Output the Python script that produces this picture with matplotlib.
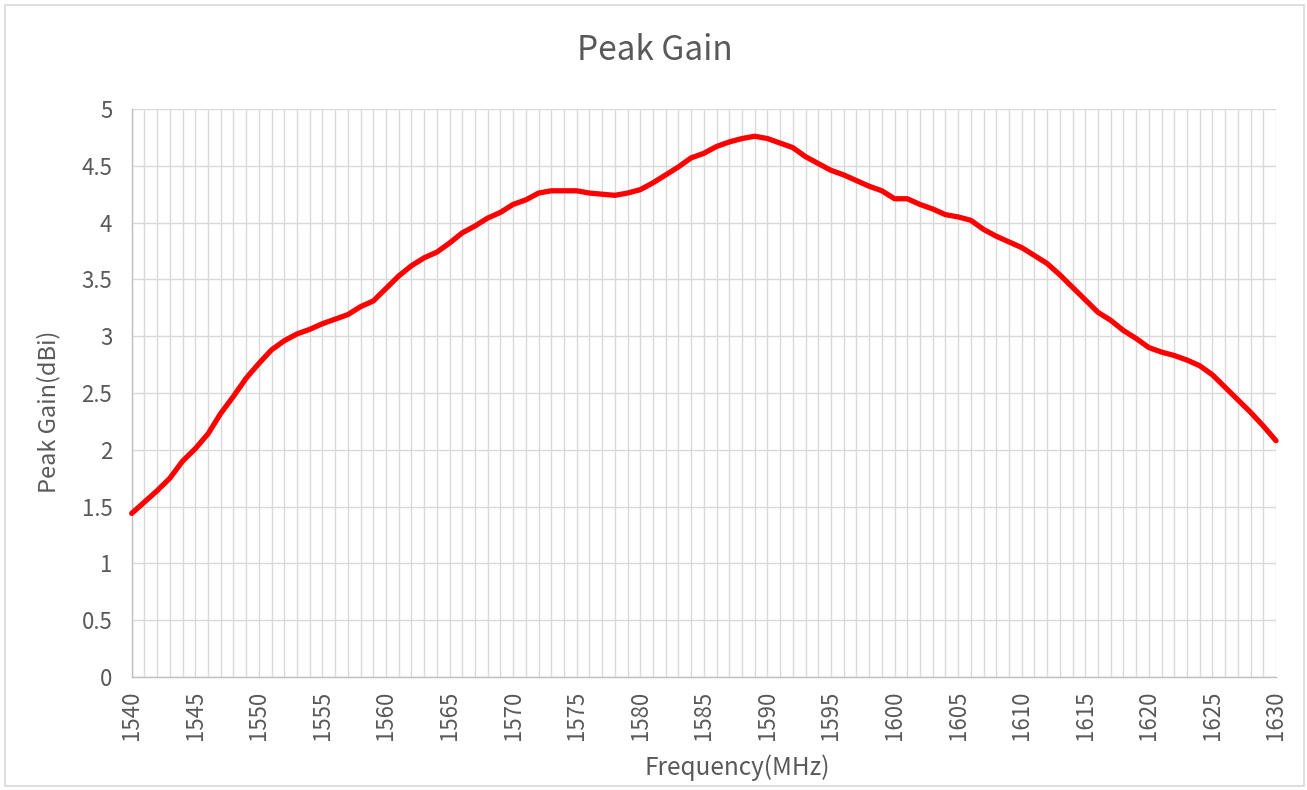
# -*- coding: utf-8 -*-
"""Peak Gain vs frecuencia (1540-1630 MHz), estilo gráfico de Excel."""
import numpy as np
import matplotlib
matplotlib.use("Agg")
import matplotlib.pyplot as plt
from matplotlib.patches import Rectangle

# ---- datos (1 punto por MHz) ----
freq_mhz = list(range(1540, 1631))
peak_gain_dbi = [
    1.44, 1.54, 1.64, 1.75, 1.90, 2.01, 2.14, 2.32, 2.47, 2.63,   # 1540-1549
    2.76, 2.88, 2.96, 3.02, 3.06, 3.11, 3.15, 3.19, 3.26, 3.31,   # 1550-1559
    3.42, 3.53, 3.62, 3.69, 3.74, 3.82, 3.91, 3.97, 4.04, 4.09,   # 1560-1569
    4.16, 4.20, 4.26, 4.28, 4.28, 4.28, 4.26, 4.25, 4.24, 4.26,   # 1570-1579
    4.29, 4.35, 4.42, 4.49, 4.57, 4.61, 4.67, 4.71, 4.74, 4.76,   # 1580-1589
    4.74, 4.70, 4.66, 4.58, 4.52, 4.46, 4.42, 4.37, 4.32, 4.28,   # 1590-1599
    4.21, 4.21, 4.16, 4.12, 4.07, 4.05, 4.02, 3.94, 3.88, 3.83,   # 1600-1609
    3.78, 3.71, 3.64, 3.54, 3.43, 3.32, 3.21, 3.14, 3.05, 2.98,   # 1610-1619
    2.90, 2.86, 2.83, 2.79, 2.74, 2.66, 2.55, 2.44, 2.33, 2.21,   # 1620-1629
    2.08,                                                         # 1630
]
x_ticks = list(range(1540, 1631, 5))
y_ticks = [0, 0.5, 1, 1.5, 2, 2.5, 3, 3.5, 4, 4.5, 5]

TXT = "#595959"
GRID = "#D9D9D9"
plt.rcParams["font.family"] = ["Noto Sans CJK SC", "DejaVu Sans"]
plt.rcParams["font.weight"] = "light"

W, H = 1307, 790
fig = plt.figure(figsize=(W / 100, H / 100), dpi=100)
# área de trazado en píxeles: x 131.7-1276, y 109-677
ax = fig.add_axes([131.7 / W, 1 - 677 / H, (1276 - 131.7) / W, (677 - 109) / H])

ax.plot(freq_mhz, peak_gain_dbi, color="#FF0000", lw=3.8,
        solid_joinstyle="round", solid_capstyle="round", zorder=3, clip_on=False)

ax.set_xlim(1540, 1630)
ax.set_ylim(0, 5)
ax.set_xticks(x_ticks)
ax.set_xticklabels([str(t) for t in x_ticks], rotation=90)
ax.set_xticks(freq_mhz, minor=True)
ax.set_yticks(y_ticks)
ax.set_yticklabels([f"{t:g}" for t in y_ticks])
ax.tick_params(axis="both", which="both", length=0, labelsize=16, labelcolor=TXT)
ax.tick_params(axis="y", pad=14)
ax.tick_params(axis="x", pad=10)

ax.grid(axis="x", which="both", color=GRID, lw=1.0, zorder=0)
ax.grid(axis="y", which="major", color=GRID, lw=1.0, zorder=0)
for s in ("top", "right"):
    ax.spines[s].set_visible(False)
for s in ("left", "bottom"):
    ax.spines[s].set_color("#BFBFBF")
    ax.spines[s].set_linewidth(1.0)
ax.set_axisbelow(True)

fig.text(655 / W, 1 - 50 / H, "Peak Gain", ha="center", va="center",
         fontsize=24, color=TXT)
fig.text(737 / W, 1 - 768 / H, "Frequency(MHz)", ha="center", va="center",
         fontsize=17.5, color=TXT)
fig.text(49 / W, 1 - 412 / H, "Peak Gain(dBi)", ha="center", va="center",
         rotation=90, fontsize=17, color=TXT)

# borde del área del gráfico
fig.patches.append(Rectangle((5 / W, 4 / H), (1304 - 5) / W, (786 - 4 - 1) / H,
                             transform=fig.transFigure, fill=False,
                             edgecolor=GRID, lw=1.2))

fig.savefig("out.png", dpi=100)
plt.close(fig)
